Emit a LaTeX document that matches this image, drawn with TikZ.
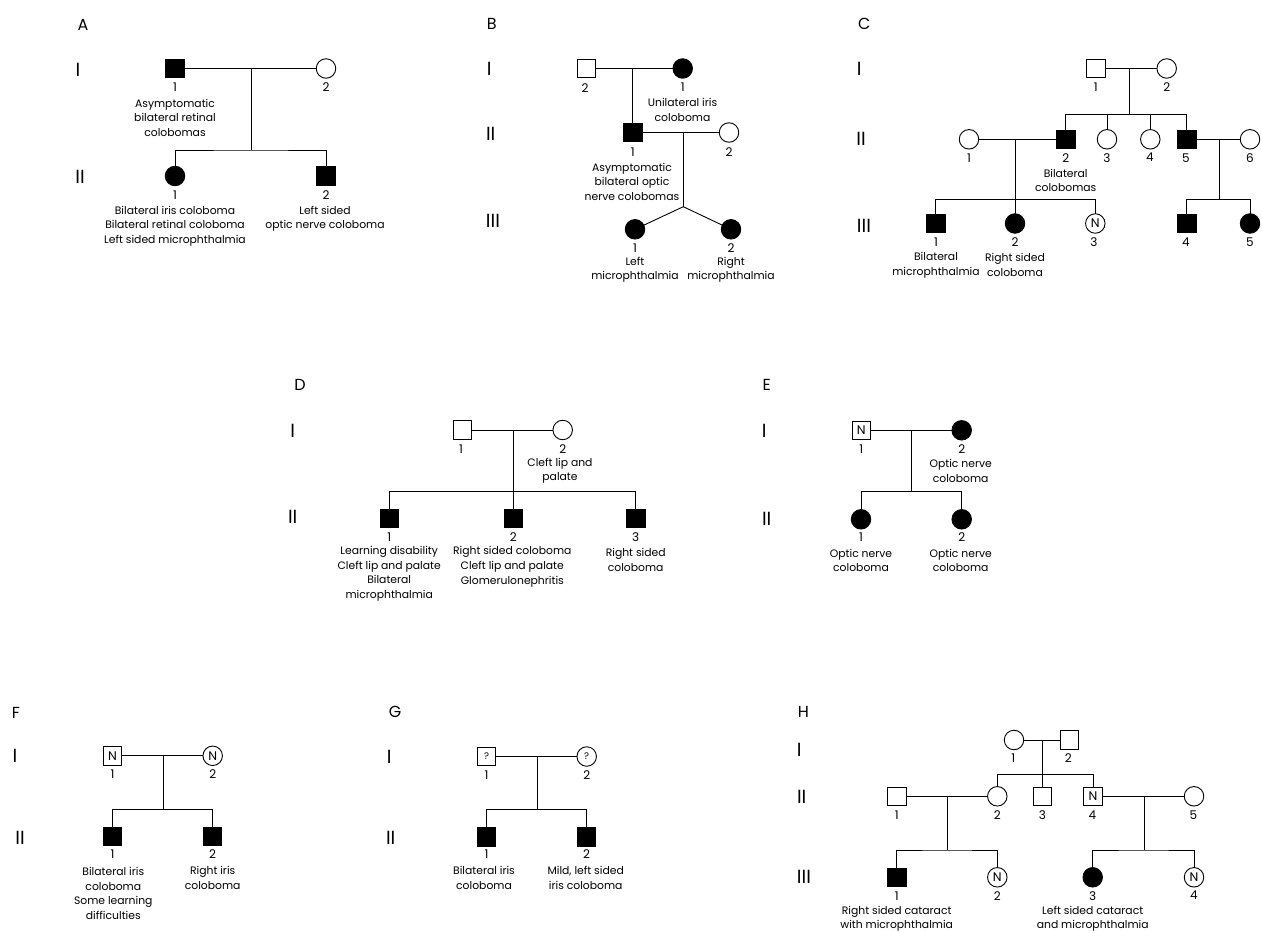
\documentclass[tikz,border=0pt]{standalone}
\usepackage{fontspec}
\setmainfont{Poppins}
\begin{document}
\begin{tikzpicture}[x=1pt,y=-1pt,
  sym/.style={draw, line width=0.9pt, inner sep=0pt, outer sep=0pt, font=\fontsize{12.5}{13}\selectfont},
  male/.style={sym, rectangle, minimum size=18.5pt},
  fem/.style={sym, circle, minimum size=19.5pt},
  aff/.style={fill=black},
  qmark/.style={font=\fontsize{9.5}{10}\selectfont},
  link/.style={line width=0.9pt},
  num/.style={inner sep=0pt, font=\fontsize{12}{13}\selectfont},
  txt/.style={inner sep=0pt, align=center, font=\fontsize{10.8}{14.6}\selectfont},
  gen/.style={inner sep=0pt, font=\fontsize{19}{19}\selectfont},
  panel/.style={inner sep=0pt, font=\fontsize{16}{16}\selectfont}]
\useasboundingbox[fill=white] (0,0) rectangle (1262,933);

% ---------- panel letters ----------
\node[panel] (LA) at (83,25) {A};
\node[panel] (LB) at (491.7,24) {B};
\node[panel] (LC) at (864.3,24) {C};
\node[panel] (LD) at (300,385) {D};
\node[panel] (LE) at (766.7,385) {E};
\node[panel] (LF) at (16,713.3) {F};
\node[panel] (LG) at (395,711.7) {G};
\node[panel] (LH) at (803.3,711.7) {H};

% ---------- generation labels ----------
\node[gen] (gA1) at (78,70) {I};
\node[gen] (gA2) at (80,177) {II};
\node[gen] (gB1) at (489.3,69.3) {I};
\node[gen] (gB2) at (490.7,134) {II};
\node[gen] (gB3) at (493,220.7) {III};
\node[gen] (gC1) at (859.3,69.3) {I};
\node[gen] (gC2) at (861,139.3) {II};
\node[gen] (gC3) at (864,226) {III};
\node[gen] (gD1) at (292.7,430.7) {I};
\node[gen] (gD2) at (292.7,516.7) {II};
\node[gen] (gE1) at (764.3,430.7) {I};
\node[gen] (gE2) at (766.7,519.3) {II};
\node[gen] (gF1) at (15,756) {I};
\node[gen] (gF2) at (20,838.3) {II};
\node[gen] (gG1) at (389.3,756.7) {I};
\node[gen] (gG2) at (390.7,838.3) {II};
\node[gen] (gH1) at (799.3,750) {I};
\node[gen] (gH2) at (801.7,797.3) {II};
\node[gen] (gH3) at (804,877.3) {III};

% ================= Panel A =================
\node[male,aff] (A11) at (175,68.5) {};
\node[fem] (A12) at (326,68.5) {};
\node[fem,aff] (A21) at (175,176) {};
\node[male,aff] (A22) at (326,176) {};
\coordinate (Am) at (251,68.5);
\coordinate (As) at (251,150);
\draw[link] (A11) -- (A12);
\draw[link] (Am) -- (As);
\draw[link] (A21.north) |- (As) -| (A22.north);
\node[num] (A11n) at (175,87) {1};
\node[num] (A12n) at (326,87) {2};
\node[num] (A21n) at (175,195) {1};
\node[num] (A22n) at (326,195) {2};
\node[txt] (A11t) at (175,117.7) {Asymptomatic\\bilateral retinal\\colobomas};
\node[txt] (A21t) at (175,226) {Bilateral iris coloboma\\Bilateral retinal coloboma\\Left sided microphthalmia};
\node[txt] (A22t) at (325,218.9) {Left sided\\optic nerve coloboma};

% ================= Panel B =================
\node[male] (B12) at (586.3,68.5) {};
\node[fem,aff] (B11) at (682.7,68.5) {};
\node[male,aff] (B21) at (632.7,132.5) {};
\node[fem] (B22) at (729,132.5) {};
\node[fem,aff] (B31) at (635,229.3) {};
\node[fem,aff] (B32) at (731,229.3) {};
\coordinate (Bm) at (632.7,68.5);
\coordinate (Bm2) at (683.3,132.5);
\coordinate (Bs) at (683.3,206.7);
\draw[link] (B12) -- (B11);
\draw[link] (Bm) -- (B21.north);
\draw[link] (B21) -- (B22);
\draw[link] (Bm2) -- (Bs);
\draw[link] (Bs) -- (B31);
\draw[link] (Bs) -- (B32);
\node[num] (B12n) at (585,87.7) {2};
\node[num] (B11n) at (682.7,87.3) {1};
\node[num] (B21n) at (632.7,151.7) {1};
\node[num] (B22n) at (729,151.7) {2};
\node[num] (B31n) at (635,247.7) {1};
\node[num] (B32n) at (731,247.7) {2};
\node[txt] (B11t) at (682.5,110) {Unilateral iris\\coloboma};
\node[txt] (B21t) at (632,181.7) {Asymptomatic\\bilateral optic\\nerve colobomas};
\node[txt] (B31t) at (635,269.8) {Left\\microphthalmia};
\node[txt] (B32t) at (731,269.8) {Right\\microphthalmia};

% ================= Panel C =================
\node[male] (C11) at (1095.8,68.5) {};
\node[fem] (C12) at (1166.7,68.5) {};
\node[fem] (C21) at (969,139.3) {};
\node[male,aff] (C22) at (1065.8,139.3) {};
\node[fem] (C23) at (1107,139.3) {};
\node[fem] (C24) at (1150.3,139.3) {};
\node[male,aff] (C25) at (1186.7,139.3) {};
\node[fem] (C26) at (1250,139.3) {};
\node[male,aff] (C31) at (935.8,223.5) {};
\node[fem,aff] (C32) at (1015,223.5) {};
\node[fem] (C33) at (1095.3,223.5) {N};
\node[male,aff] (C34) at (1186.7,223.5) {};
\node[fem,aff] (C35) at (1250,223.5) {};
\coordinate (Cm) at (1129.3,68.5);
\coordinate (Cs) at (1129.3,114.3);
\coordinate (Cm2) at (1015,139.3);
\coordinate (Cs2) at (1015,199.3);
\coordinate (Cm3) at (1219,139.3);
\coordinate (Cs3) at (1219,199.3);
\draw[link] (C11) -- (C12);
\draw[link] (Cm) -- (Cs);
\draw[link] (C22.north) |- (Cs) -| (C25.north);
\draw[link] (C23.north) -- (C23.north |- Cs);
\draw[link] (C24.north) -- (C24.north |- Cs);
\draw[link] (C21) -- (C22);
\draw[link] (Cm2) -- (Cs2);
\draw[link] (C31.north) |- (Cs2) -| (C33.north);
\draw[link] (Cs2) -- (C32.north);
\draw[link] (C25) -- (C26);
\draw[link] (Cm3) -- (Cs3);
\draw[link] (C34.north) |- (Cs3) -| (C35.north);
\node[num] (C11n) at (1095.8,87.3) {1};
\node[num] (C12n) at (1166.7,87.3) {2};
\node[num] (C21n) at (969,157.7) {1};
\node[num] (C22n) at (1065.7,157.7) {2};
\node[num] (C23n) at (1107,157.7) {3};
\node[num] (C24n) at (1150,157.7) {4};
\node[num] (C25n) at (1186,157.7) {5};
\node[num] (C26n) at (1250,157.7) {6};
\node[num] (C31n) at (936,242.3) {1};
\node[num] (C32n) at (1015,242.3) {2};
\node[num] (C33n) at (1094,242.3) {3};
\node[num] (C34n) at (1186,242.3) {4};
\node[num] (C35n) at (1250,242.3) {5};
\node[txt] (C22t) at (1065.7,180.5) {Bilateral\\colobomas};
\node[txt] (C31t) at (936,265.2) {Bilateral\\microphthalmia};
\node[txt] (C32t) at (1015,265.2) {Right sided\\coloboma};

% ================= Panel D =================
\node[male] (D11) at (462.5,430) {};
\node[fem] (D12) at (562.7,430) {};
\node[male,aff] (D21) at (389.2,518.5) {};
\node[male,aff] (D22) at (513.3,518.5) {};
\node[male,aff] (D23) at (635.7,518.5) {};
\coordinate (Dm) at (513.3,430);
\coordinate (Ds) at (513.3,491.7);
\draw[link] (D11) -- (D12);
\draw[link] (Dm) -- (D22.north);
\draw[link] (D21.north) |- (Ds) -| (D23.north);
\node[num] (D11n) at (461,449.3) {1};
\node[num] (D12n) at (562.7,449.3) {2};
\node[num] (D21n) at (389.2,536.7) {1};
\node[num] (D22n) at (513.3,536.7) {2};
\node[num] (D23n) at (635.7,536.7) {3};
\node[txt] (D12t) at (560,470.8) {Cleft lip and\\palate};
\node[txt] (D21t) at (389.2,573.9) {Learning disability\\Cleft lip and palate\\Bilateral\\microphthalmia};
\node[txt] (D22t) at (512.3,566.7) {Right sided coloboma\\Cleft lip and palate\\Glomerulonephritis};
\node[txt] (D23t) at (635.7,559.7) {Right sided\\coloboma};

% ================= Panel E =================
\node[male] (E11) at (861.2,430.3) {N};
\node[fem,aff] (E12) at (961.7,430.3) {};
\node[fem,aff] (E21) at (861,519.3) {};
\node[fem,aff] (E22) at (961.7,519.3) {};
\coordinate (Em) at (911.7,430.3);
\coordinate (Es) at (911.7,491.7);
\draw[link] (E11) -- (E12);
\draw[link] (Em) -- (Es);
\draw[link] (E21.north) |- (Es) -| (E22.north);
\node[num] (E11n) at (861.2,449.3) {1};
\node[num] (E12n) at (961.7,449.3) {2};
\node[num] (E21n) at (861,536.7) {1};
\node[num] (E22n) at (961.7,536.7) {2};
\node[txt] (E12t) at (960.7,471.2) {Optic nerve\\coloboma};
\node[txt] (E21t) at (861,560.5) {Optic nerve\\coloboma};
\node[txt] (E22t) at (960.7,560.5) {Optic nerve\\coloboma};

% ================= Panel F =================
\node[male] (F11) at (112.5,755.8) {N};
\node[fem] (F12) at (212.7,755.8) {N};
\node[male,aff] (F21) at (112.5,836.5) {};
\node[male,aff] (F22) at (212.5,836.5) {};
\coordinate (Fm) at (163.3,755.8);
\coordinate (Fs) at (163.3,809.3);
\draw[link] (F11) -- (F12);
\draw[link] (Fm) -- (Fs);
\draw[link] (F21.north) |- (Fs) -| (F22.north);
\node[num] (F11n) at (112.5,774.3) {1};
\node[num] (F12n) at (212.7,774.3) {2};
\node[num] (F21n) at (112.5,854.3) {1};
\node[num] (F22n) at (212.5,854.3) {2};
\node[txt] (F21t) at (113.3,893.3) {Bilateral iris\\coloboma\\Some learning\\difficulties};
\node[txt] (F22t) at (212.7,878) {Right iris\\coloboma};

% ================= Panel G =================
\node[male,qmark] (G11) at (486.5,756.5) {?};
\node[fem,qmark] (G12) at (586.7,756.5) {?};
\node[male,aff] (G21) at (486.5,836.7) {};
\node[male,aff] (G22) at (586.5,836.7) {};
\coordinate (Gm) at (537.3,756.5);
\coordinate (Gs) at (537.3,809.3);
\draw[link] (G11) -- (G12);
\draw[link] (Gm) -- (Gs);
\draw[link] (G21.north) |- (Gs) -| (G22.north);
\node[num] (G11n) at (486.5,775) {1};
\node[num] (G12n) at (586.7,775) {2};
\node[num] (G21n) at (486.5,854) {1};
\node[num] (G22n) at (586.5,854) {2};
\node[txt] (G21t) at (484,878) {Bilateral iris\\coloboma};
\node[txt] (G22t) at (585.7,878) {Mild, left sided\\iris coloboma};

% ================= Panel H =================
\node[fem] (H11) at (1014,740) {};
\node[male] (H12) at (1069.5,740) {};
\node[male] (H21) at (896.7,796.3) {};
\node[fem] (H22) at (997.3,796.3) {};
\node[male] (H23) at (1042.3,796.3) {};
\node[male] (H24) at (1093,796.3) {N};
\node[fem] (H25) at (1194,796.3) {};
\node[male,aff] (H31) at (896.8,877.3) {};
\node[fem] (H32) at (997.3,877.3) {N};
\node[fem,aff] (H33) at (1092.7,877.3) {};
\node[fem] (H34) at (1194,877.3) {N};
\coordinate (Hm) at (1042.3,740);
\coordinate (Hs) at (1042.3,774.3);
\coordinate (Hm2) at (947.3,796.3);
\coordinate (Hs2) at (947.3,850);
\coordinate (Hm3) at (1144,796.3);
\coordinate (Hs3) at (1144,850);
\draw[link] (H11) -- (H12);
\draw[link] (Hm) -- (H23.north);
\draw[link] (H22.north) |- (Hs) -| (H24.north);
\draw[link] (H21) -- (H22);
\draw[link] (Hm2) -- (Hs2);
\draw[link] (H31.north) |- (Hs2) -| (H32.north);
\draw[link] (H24) -- (H25);
\draw[link] (Hm3) -- (Hs3);
\draw[link] (H33.north) |- (Hs3) -| (H34.north);
\node[num] (H11n) at (1013.3,757.7) {1};
\node[num] (H12n) at (1068.3,757.7) {2};
\node[num] (H21n) at (896.7,815) {1};
\node[num] (H22n) at (997.3,815) {2};
\node[num] (H23n) at (1042.3,815) {3};
\node[num] (H24n) at (1092.3,815) {4};
\node[num] (H25n) at (1193.3,815) {5};
\node[num] (H31n) at (896.7,895.7) {1};
\node[num] (H32n) at (997.3,895.7) {2};
\node[num] (H33n) at (1092.7,895.7) {3};
\node[num] (H34n) at (1194,895.7) {4};
\node[txt] (H31t) at (896.7,918.8) {Right sided cataract\\with microphthalmia};
\node[txt] (H33t) at (1092.7,918.8) {Left sided cataract\\and microphthalmia};
\end{tikzpicture}
\end{document}
